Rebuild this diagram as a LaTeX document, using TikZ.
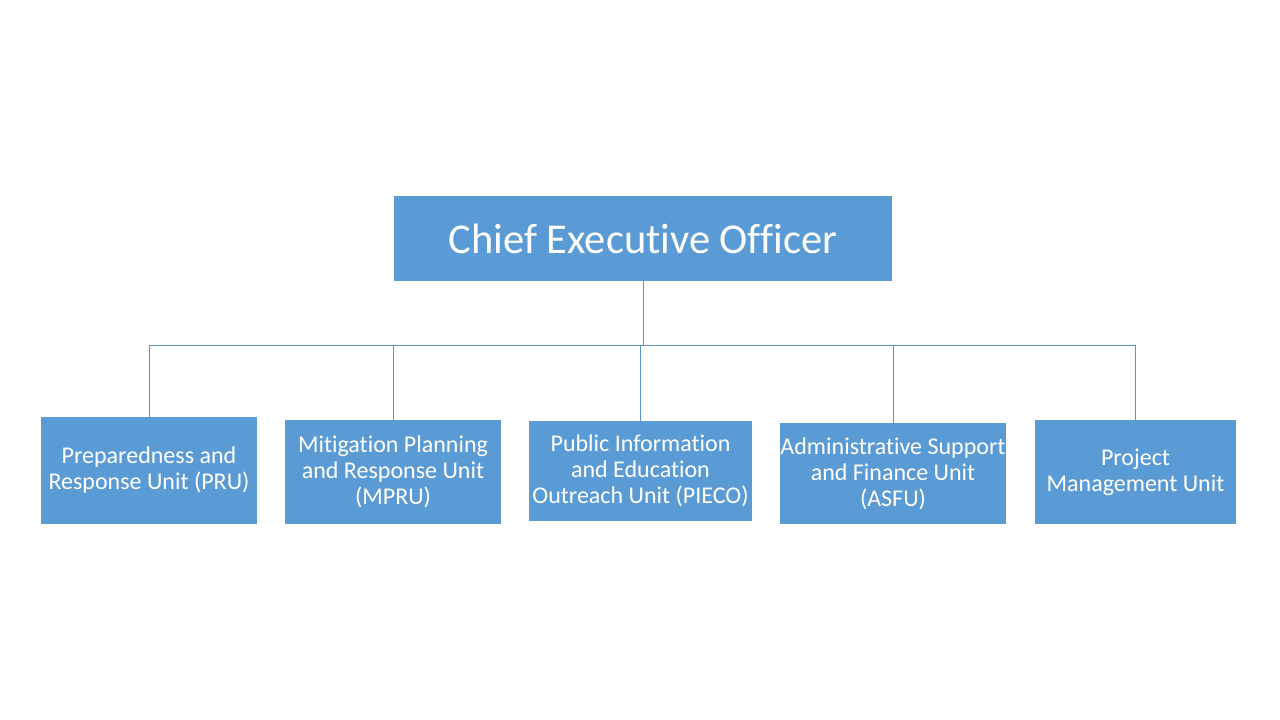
\documentclass[tikz,border=0pt]{standalone}
\usepackage{fontspec}
\setmainfont{Carlito}[Ligatures=NoCommon]
\usepackage{xcolor}
\usepackage{tikz}
\usetikzlibrary{positioning,calc}
\definecolor{unitblue}{HTML}{5B9BD5}
\definecolor{linkblue}{HTML}{5B93C9}

\begin{document}
\begin{tikzpicture}[x=1pt, y=1pt,
    unitbox/.style={fill=unitblue, text=white, align=center, inner sep=0pt, font=\fontsize{24}{26}\selectfont},
    link/.style={draw=linkblue, line width=1pt}]
    % Page
    \useasboundingbox (0,0) rectangle (1280,720);

    % Head
    \node[unitbox, minimum width=498, minimum height=85, font=\fontsize{42.5}{46}\selectfont] (ceo) at (643,481.5) {Chief Executive Officer};

    % Units
    \node[unitbox, minimum width=216, minimum height=107] (pru) at (149,249.5) {Preparedness and\\Response Unit (PRU)};
    \node[unitbox, minimum width=216, minimum height=104] (mpru) at (393,248) {Mitigation Planning\\and Response Unit\\(MPRU)};
    \node[unitbox, minimum width=223, minimum height=100] (pieco) at (640.5,249) {Public Information\\and Education\\Outreach Unit (PIECO)};
    \node[unitbox, minimum width=226, minimum height=101] (asfu) at (893,246.5) {Administrative Support\\and Finance Unit\\(ASFU)};
    \node[unitbox, minimum width=201, minimum height=104] (pmu) at (1135.5,248) {Project\\Management Unit};

    % Connections
    \coordinate (bus) at ($(ceo.south)+(0,-64)$);
    \draw[link] (ceo.south) -- (bus);
    \foreach \u in {pru,mpru,pieco,asfu,pmu}
        \draw[link] (bus) -| (\u.north);
\end{tikzpicture}
\end{document}
